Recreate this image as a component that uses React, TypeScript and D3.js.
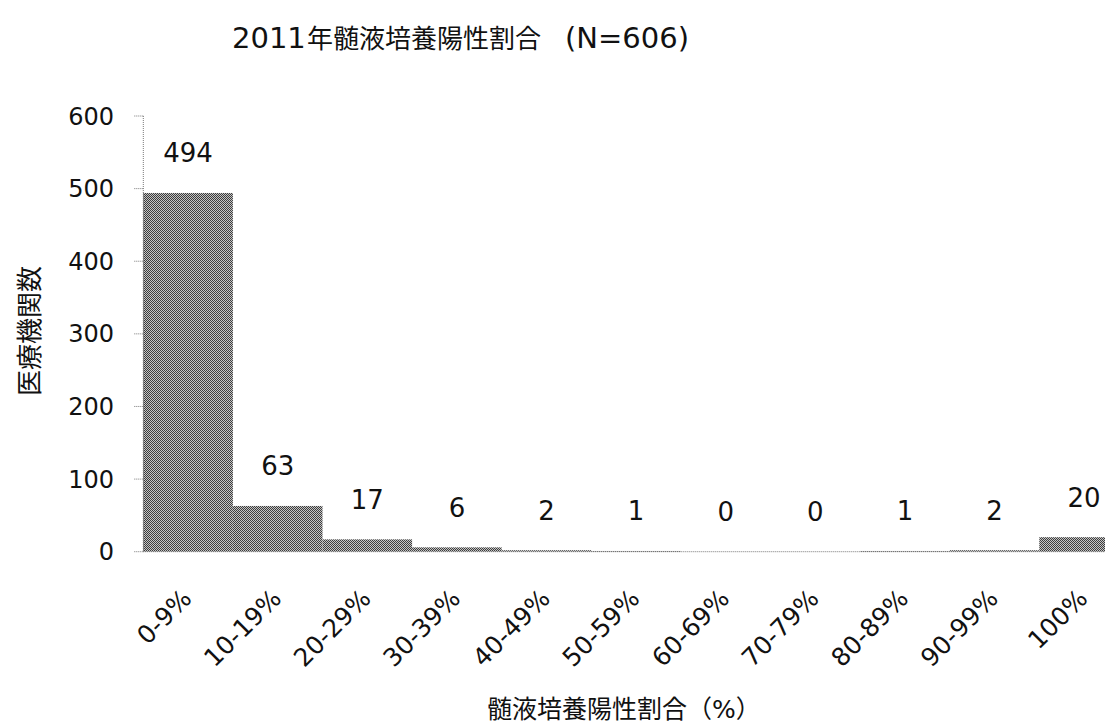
import React from "react";
import * as d3 from "d3";

// Bin labels (share of positive CSF cultures) and number of hospitals per bin
const categories = ["0-9%", "10-19%", "20-29%", "30-39%", "40-49%", "50-59%", "60-69%", "70-79%", "80-89%", "90-99%", "100%"];
const counts = [494, 63, 17, 6, 2, 1, 0, 0, 1, 2, 20];
const yTicks = [0, 100, 200, 300, 400, 500, 600];

const titleYear = "2011";
const titleMain = "年髄液培養陽性割合";
const titleN = "(N=606)";
const xTitle = "髄液培養陽性割合（%）";
const yTitle = "医療機関数";

const W = 1105;
const H = 726;
const latin = "'DejaVu Sans', Verdana, sans-serif";
const cjk = "'Noto Sans CJK JP', sans-serif";
const mixed = "'DejaVu Sans', 'Noto Sans CJK JP', sans-serif";

export default function App() {
  const left = 143.3;
  const band = 89.6;
  const x = d3
    .scaleBand<string>()
    .domain(categories)
    .range([left, left + band * categories.length])
    .paddingInner(0)
    .paddingOuter(0);
  const y = d3.scaleLinear().domain([0, 600]).range([551.7, 116]);

  const base = y(0);

  return (
    <svg
      width={W}
      height={H}
      style={{ position: "absolute", left: 0, top: 0, background: "#fff" }}
    >
      <defs>
        <pattern id="dither" width={2} height={2} patternUnits="userSpaceOnUse">
          <rect width={2} height={2} fill="#c4c4c4" />
          <rect x={0} y={0} width={1} height={1} fill="#3c3c3c" />
          <rect x={1} y={1} width={1} height={1} fill="#3c3c3c" />
        </pattern>
      </defs>

      <text y={48} fill="#111">
        <tspan x={232} fontFamily={latin} fontSize={29}>{titleYear}</tspan>
        <tspan x={307} fontFamily={cjk} fontSize={26}>{titleMain}</tspan>
        <tspan x={565} fontFamily={latin} fontSize={29}>{titleN}</tspan>
      </text>

      {/* bars */}
      {categories.map((c, i) => (
        <rect
          key={c}
          x={x(c)!}
          y={y(counts[i])}
          width={x.bandwidth()}
          height={base - y(counts[i])}
          fill="url(#dither)"
        />
      ))}

      {/* y axis */}
      <line x1={left} x2={left} y1={y(600)} y2={base} stroke="#777" strokeDasharray="1,1" />
      {yTicks.map((t) => (
        <g key={t}>
          <line x1={left - 9} x2={left} y1={y(t)} y2={y(t)} stroke="#777" strokeDasharray="1,1" />
          <text
            x={114}
            y={y(t)}
            dy="0.36em"
            textAnchor="end"
            fontFamily={latin}
            fontSize={24}
            fill="#111"
          >
            {t}
          </text>
        </g>
      ))}

      {/* x axis */}
      <line x1={left} x2={W} y1={base} y2={base} stroke="#777" strokeDasharray="1,1" />

      {/* value labels */}
      {categories.map((c, i) => {
        const cx = x(c)! + x.bandwidth() / 2;
        return (
          <text
            key={c}
            x={cx}
            y={y(counts[i]) - 40}
            dy="0.36em"
            textAnchor="middle"
            fontFamily={latin}
            fontSize={26}
            fill="#111"
          >
            {counts[i]}
          </text>
        );
      })}

      {/* category labels */}
      {categories.map((c) => {
        const cx = x(c)! + x.bandwidth() / 2 + 5;
        const ty = 600;
        return (
          <text
            key={c}
            x={cx}
            y={ty}
            textAnchor="end"
            transform={`rotate(-45 ${cx} ${ty})`}
            fontFamily={latin}
            fontSize={25}
            fill="#111"
          >
            {c}
          </text>
        );
      })}

      <text
        x={487}
        y={709}
        dy="0.36em"
        textAnchor="start"
        fontFamily={mixed}
        fontSize={25}
        fill="#111"
      >
        {xTitle}
      </text>

      <text
        transform={`translate(30 331) rotate(-90)`}
        dy="0.36em"
        textAnchor="middle"
        fontFamily={cjk}
        fontSize={26}
        fill="#111"
      >
        {yTitle}
      </text>
    </svg>
  );
}
